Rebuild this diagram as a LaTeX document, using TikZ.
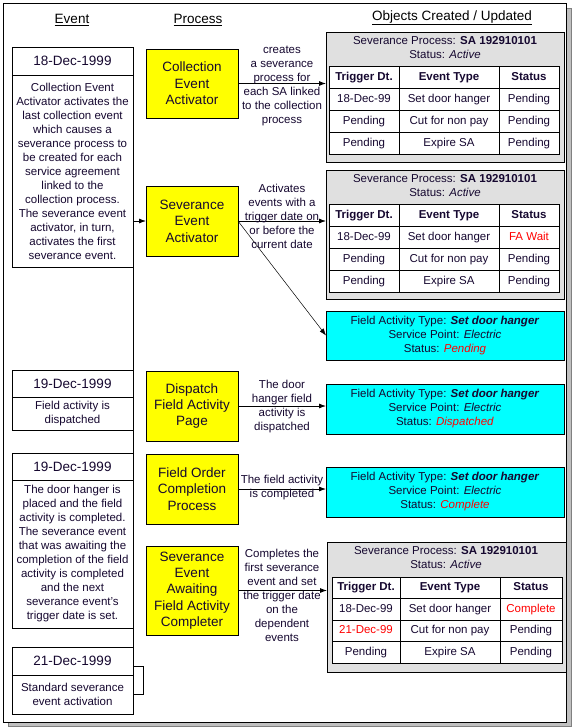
\documentclass[tikz,border=0pt]{standalone}
\usepackage{fontspec}
\setmainfont{Liberation Sans}
\usetikzlibrary{arrows.meta}
\definecolor{txt}{RGB}{22,8,48}
\definecolor{boxgray}{RGB}{224,224,224}
\definecolor{shadowgray}{RGB}{192,192,192}
\definecolor{fyellow}{RGB}{255,255,0}
\definecolor{fcyan}{RGB}{0,255,255}
\definecolor{fred}{RGB}{255,0,0}
\newcommand\sevtable[8]{%
  \foreach \ca/\cb/\cc [count=\ri from 0] in {#8} {
    \node[cellbox, minimum width=#5pt, minimum height=#4pt] (#1-\ri-1) at (#2, #3+#4*\ri) {\ca};
    \node[cellbox, minimum width=#6pt, minimum height=#4pt] (#1-\ri-2) at (#2+#5, #3+#4*\ri) {\cb};
    \node[cellbox, minimum width=#7pt, minimum height=#4pt] (#1-\ri-3) at (#2+#5+#6, #3+#4*\ri) {\cc};
  }}
\begin{document}
\begin{tikzpicture}[x=1pt,y=-1pt,
  line width=0.8pt,
  every node/.style={inner sep=0pt, outer sep=0pt, text=txt},
  small/.style={font=\fontsize{11.5}{14}\selectfont, align=center},
  big/.style={font=\fontsize{13.5}{16.4}\selectfont, align=center},
  hdr/.style={font=\fontsize{13.5}{16}\selectfont, text=black},
  datebox/.style={draw, big, minimum width=121pt, anchor=north west},
  descbox/.style={draw, small, minimum width=121pt, anchor=north west},
  procbox/.style={draw, fill=fyellow, big, minimum width=92pt, anchor=north west},
  graybox/.style={draw, fill=boxgray, minimum width=238pt, minimum height=130pt, anchor=north west},
  cyanbox/.style={draw, fill=fcyan, small, minimum width=238pt, minimum height=49pt, anchor=north west},
  cellbox/.style={draw, fill=white, small, anchor=north west, text height=8.6pt, text depth=2.6pt},
  arr/.style={-{Latex[length=7pt,width=5pt]}}
]
\useasboundingbox (0,0) rectangle (575,728);
% frame with shadow
\path[fill=shadowgray, draw=gray, line width=0.6pt] (8,8) rectangle (571.5,726.5);
\path[fill=white, draw=black, line width=1pt] (3,3) rectangle (566,722);

% headers
\node[hdr] (hev) at (72,20) {\underline{Event}};
\node[hdr] (hpr) at (198,20) {\underline{Process}};
\node[hdr] (hob) at (452,18) {\underline{Objects Created / Updated}};

% event column
\node[datebox, minimum height=28pt] (ev1a) at (12,47) {18-Dec-1999};
\node[descbox, minimum height=192pt] (ev1d) at (12,75) {Collection Event\\Activator activates the\\last collection event\\which causes a\\severance process to\\be created for each\\service agreement\\linked to the\\collection process.\\The severance event\\activator, in turn,\\activates the first\\severance event.};
\node[datebox, minimum height=27pt] (ev2a) at (12,370) {19-Dec-1999};
\node[descbox, minimum height=33pt] (ev2d) at (12,397) {Field activity is\\dispatched};
\node[datebox, minimum height=27pt] (ev3a) at (12,453) {19-Dec-1999};
\node[descbox, minimum height=148pt] (ev3d) at (12,480) {The door hanger is\\placed and the field\\activity is completed.\\The severance event\\that was awaiting the\\completion of the field\\activity is completed\\and the next\\severance event's\\trigger date is set.};
\node[datebox, minimum height=28pt] (ev4a) at (12,647) {21-Dec-1999};
\node[descbox, minimum height=39pt] (ev4d) at (12,675) {Standard severance\\event activation};

% timeline
\draw (ev1d.south east) -- (ev4a.north east);
\coordinate (bka) at (133,666);
\coordinate (bkb) at (133,694);
\draw (bka) -- ++(10,0) |- (bkb);

% process column
\node[procbox, minimum height=69pt] (cea) at (146,49) {Collection\\Event\\Activator};
\node[procbox, minimum height=70pt] (sea) at (146,186) {Severance\\Event\\Activator};
\node[procbox, minimum height=70pt] (dfa) at (146,371) {Dispatch\\Field Activity\\Page};
\node[procbox, minimum height=70pt] (foc) at (146,454) {Field Order\\Completion\\Process};
\node[procbox, minimum height=89pt] (saw) at (146,546) {Severance\\Event\\Awaiting\\Field Activity\\Completer};

\draw[arr] (sea.west -| ev1d.east) -- (sea.west);

% objects column
\node[graybox] (g1) at (326,32) {};
\node[small] (g1t) at (445,48) {Severance Process: \textbf{SA 192910101}\\Status: \textit{Active}};
\sevtable{g1m}{329}{66}{22}{70}{100}{60}{{\textbf{Trigger Dt.}}/{\textbf{Event Type}}/{\textbf{Status}}, 18-Dec-99/Set door hanger/Pending, Pending/Cut for non pay/Pending, Pending/Expire SA/Pending}

\node[graybox, minimum height=129pt] (g2) at (326,170) {};
\node[small] (g2t) at (445,186) {Severance Process: \textbf{SA 192910101}\\Status: \textit{Active}};
\sevtable{g2m}{329}{204}{22}{70}{100}{60}{{\textbf{Trigger Dt.}}/{\textbf{Event Type}}/{\textbf{Status}}, 18-Dec-99/Set door hanger/{\textcolor{fred}{FA Wait}}, Pending/Cut for non pay/Pending, Pending/Expire SA/Pending}

\node[cyanbox] (c1) at (326,311) {Field Activity Type: \textbf{\textit{Set door hanger}}\\Service Point: \textit{Electric}\\Status: \textcolor{fred}{\textit{Pending}}};
\node[cyanbox, minimum height=50pt] (c2) at (326,384) {Field Activity Type: \textbf{\textit{Set door hanger}}\\Service Point: \textit{Electric}\\Status: \textcolor{fred}{\textit{Dispatched}}};
\node[cyanbox, minimum height=50pt] (c3) at (326,467) {Field Activity Type: \textbf{\textit{Set door hanger}}\\Service Point: \textit{Electric}\\Status: \textcolor{fred}{\textit{Complete}}};

\node[graybox, minimum width=239pt] (g4) at (327,542) {};
\node[small] (g4t) at (446,558) {Severance Process: \textbf{SA 192910101}\\Status: \textit{Active}};
\sevtable{g4m}{332}{577}{21.5}{68}{100}{62}{{\textbf{Trigger Dt.}}/{\textbf{Event Type}}/{\textbf{Status}}, 18-Dec-99/Set door hanger/{\textcolor{fred}{Complete}}, {\textcolor{fred}{21-Dec-99}}/Cut for non pay/Pending, Pending/Expire SA/Pending}

% connectors
\draw[arr] (cea.east) -- (cea.east -| g1.west);
\draw[arr] (sea.east) -- (sea.east -| g2.west);
\draw[arr, line width=0.5pt] (sea.east) -- (c1.west);
\draw[arr] (dfa.east) -- (dfa.east -| c2.west);
\draw[arr] (foc.east) -- (foc.east -| c3.west);
\draw[arr] (saw.east) -- (saw.east -| g4.west);

% connector labels
\node[small] (lcea) at (282,85.5) {creates\\a severance\\process for\\each SA linked\\to the collection\\process};
\node[small] (lsea) at (282,216) {Activates\\events with a\\trigger date on\\or before the\\current date};
\node[small] (ldfa) at (282,407) {The door\\hanger field\\activity is\\dispatched};
\node[small] (lfoc) at (282,488) {The field activity\\is completed};
\node[small] (lsaw) at (282,595) {Completes the\\first severance\\event and set\\the trigger date\\on the\\dependent\\events};
\end{tikzpicture}
\end{document}
